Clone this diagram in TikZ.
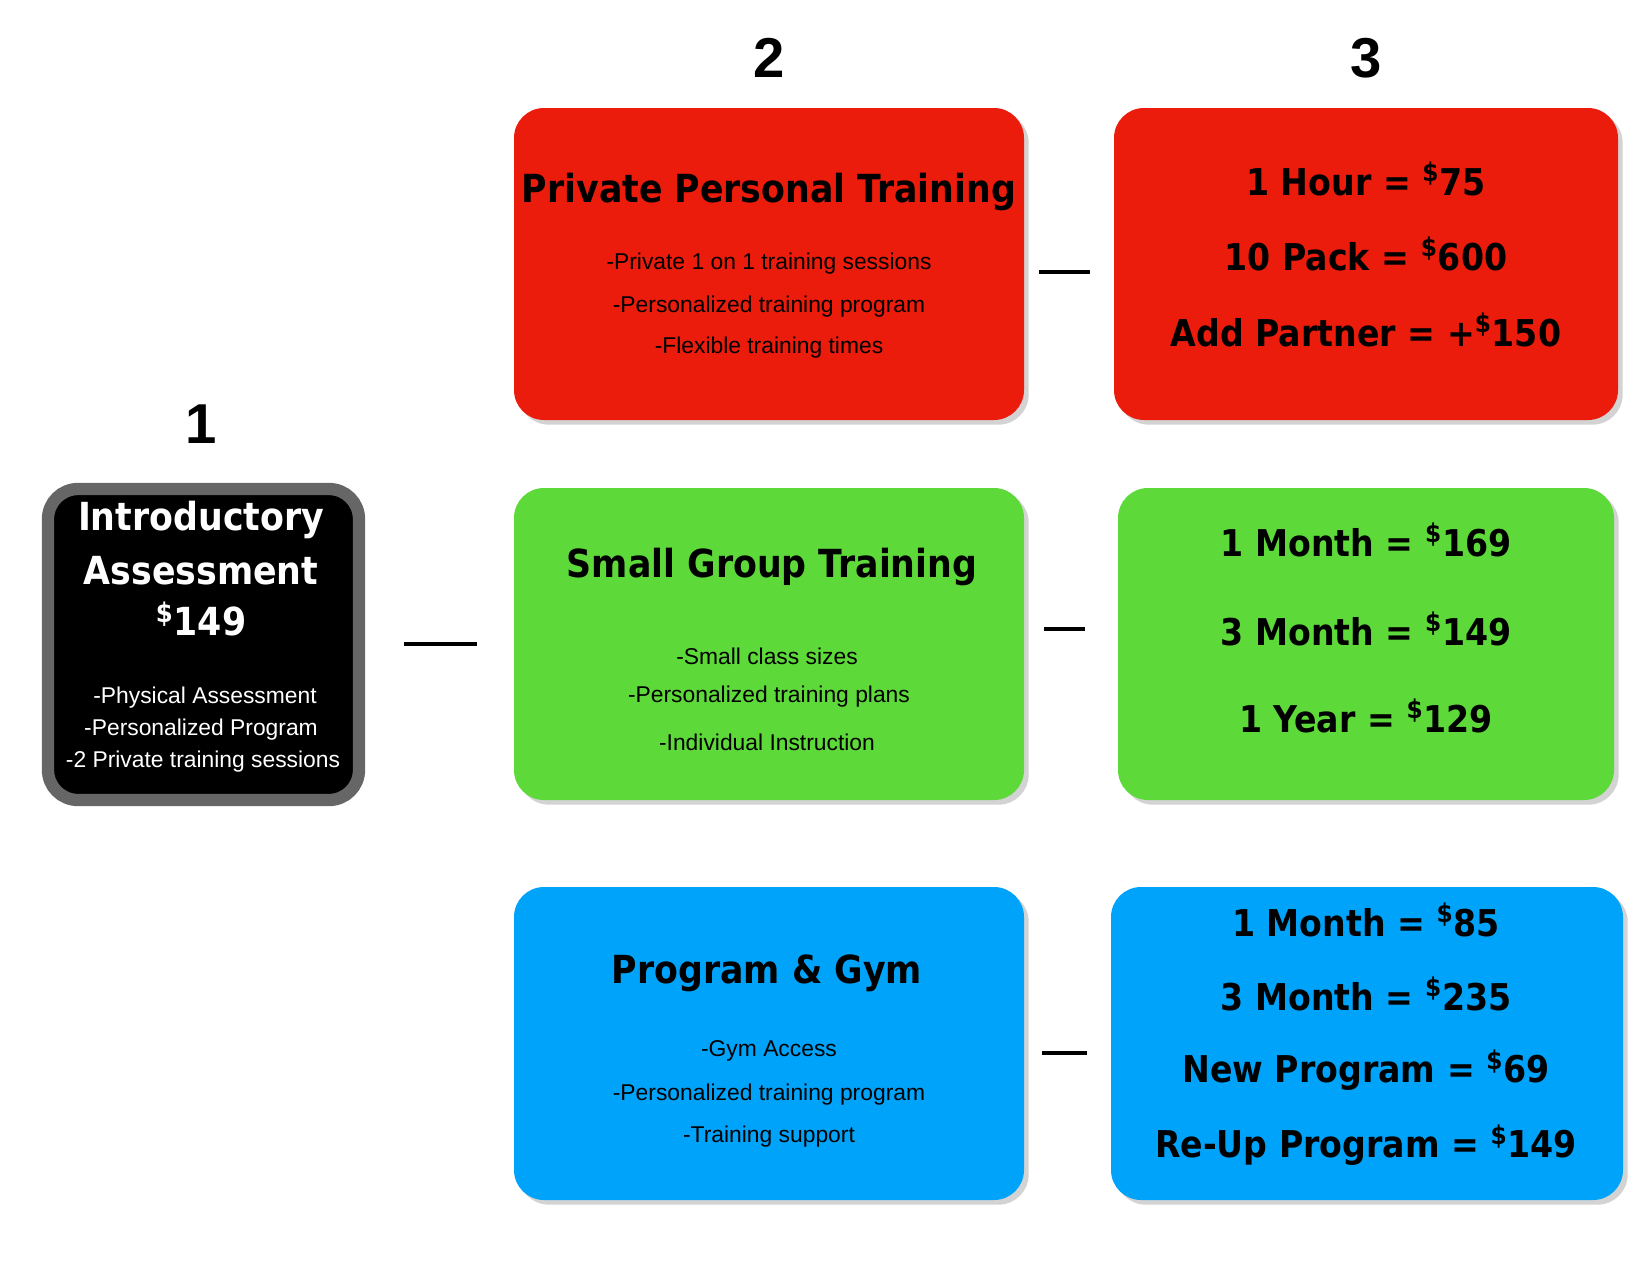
\documentclass[tikz,border=0pt]{standalone}
\usepackage{fontspec}
\setmainfont{Liberation Sans}
\newfontfamily\titlefont{DejaVu Sans Condensed}
\usetikzlibrary{shadows}
\newcommand{\dol}{\textsuperscript{\$}}
\definecolor{ptred}{HTML}{EC1C0C}
\definecolor{sggreen}{HTML}{5DD93A}
\definecolor{pgblue}{HTML}{00A3FA}
\tikzset{
  card/.style={rounded corners=0.6cm, drop shadow={opacity=0.35}, draw=none},
  head/.style={font=\fontsize{32}{36}\selectfont\bfseries},
  ttl/.style={font=\titlefont\fontsize{22}{26}\selectfont\bfseries},
  price/.style={font=\titlefont\fontsize{21}{24}\selectfont\bfseries},
  info/.style={font=\fontsize{13}{15}\selectfont},
  sepline/.style={line width=2.2pt}
}
\begin{document}
\begin{tikzpicture}[x=0.02cm,y=-0.02cm]
    \useasboundingbox (0,0) rectangle (1650,1275);
    % headers
    \node [head] (h1) at (201,424) {1};
    \node [head] (h2) at (769,58) {2};
    \node [head] (h3) at (1366,58) {3};

    % boxes
    \fill [card, fill=ptred]   (514,108) rectangle (1024,420);
    \fill [card, fill=ptred]   (1114,108) rectangle (1618,420);
    \fill [card, fill=sggreen] (514,488) rectangle (1024,800);
    \fill [card, fill=sggreen] (1118,488) rectangle (1614,800);
    \fill [card, fill=pgblue]  (514,887) rectangle (1024,1200);
    \fill [card, fill=pgblue]  (1111,887) rectangle (1623,1200);
    \draw [line width=7pt, draw=black!60, fill=black, rounded corners=0.6cm]
      (48,489) rectangle (359,800);

    % column 1
    \node [ttl, text=white] (ia1) at (201,520) {Introductory};
    \node [ttl, text=white] (ia2) at (201,571) {Assessment};
    \node [ttl, text=white] (ia3) at (201,619) {\dol149};
    \node [info, text=white] (ib1) at (205,698) {-Physical Assessment};
    \node [info, text=white] (ib2) at (201,730) {-Personalized Program};
    \node [info, text=white] (ib3) at (203,762) {-2 Private training sessions};

    % column 2
    \node [ttl] (pt) at (769,192) {Private Personal Training};
    \node [info] (pt1) at (769,264) {-Private 1 on 1 training sessions};
    \node [info] (pt2) at (769,307) {-Personalized training program};
    \node [info] (pt3) at (769,348) {-Flexible training times};

    \node [ttl] (sg) at (772,567) {Small Group Training};
    \node [info] (sg1) at (767,656) {-Small class sizes};
    \node [info] (sg2) at (769,697) {-Personalized training plans};
    \node [info] (sg3) at (767,742) {-Individual Instruction};

    \node [ttl] (pg) at (767,973) {Program \& Gym};
    \node [info] (pg1) at (769,1051) {-Gym Access};
    \node [info] (pg2) at (769,1095) {-Personalized training program};
    \node [info] (pg3) at (769,1137) {-Training support};

    % column 3
    \node [price] (pp1) at (1366,179) {1 Hour = \dol75};
    \node [price] (pp2) at (1366,254) {10 Pack = \dol600};
    \node [price] (pp3) at (1366,330) {Add Partner = +\dol150};

    \node [price] (sp1) at (1366,540) {1 Month = \dol169};
    \node [price] (sp2) at (1366,629) {3 Month = \dol149};
    \node [price] (sp3) at (1366,716) {1 Year = \dol129};

    \node [price] (bp1) at (1366,920) {1 Month = \dol85};
    \node [price] (bp2) at (1366,994) {3 Month = \dol235};
    \node [price] (bp3) at (1366,1070) {New Program = \dol69};
    \node [price] (bp4) at (1366,1145) {Re-Up Program = \dol149};

    % dashes
    \coordinate (d1a) at (404,644);  \coordinate (d1b) at (477,644);
    \coordinate (d2a) at (1039,272); \coordinate (d2b) at (1090,272);
    \coordinate (d3a) at (1044,629); \coordinate (d3b) at (1085,629);
    \coordinate (d4a) at (1042,1053); \coordinate (d4b) at (1087,1053);
    \draw [sepline] (d1a) -- (d1b);
    \draw [sepline] (d2a) -- (d2b);
    \draw [sepline] (d3a) -- (d3b);
    \draw [sepline] (d4a) -- (d4b);
\end{tikzpicture}
\end{document}
